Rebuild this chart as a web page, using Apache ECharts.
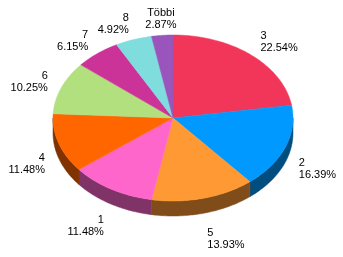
<!DOCTYPE html>
<html>
<head>
<meta charset="utf-8">
<script src="https://cdn.jsdelivr.net/npm/echarts@6/dist/echarts.min.js"></script>
<style>
  html, body { margin: 0; padding: 0; background: #fff; }
  #chart { width: 343px; height: 257px; }
</style>
</head>
<body>
<div id="chart"></div>
<script>
// slices, clockwise from 12 o'clock
const names = ['3', '2', '5', '1', '4', '6', '7', '8', 'Többi']
const shares = [22.54, 16.39, 13.93, 11.48, 11.48, 10.25, 6.15, 4.92, 2.87]
const colors = ['#f2365a', '#0099ff', '#ff9933', '#ff66cc', '#ff6600', '#b3e07f', '#cc3399', '#7fdddd', '#9955bb']

const cx = 173
const cy = 118
const rx = 120
const ry = 83
const depth = 15

const total = shares.reduce((a, b) => a + b, 0)
const starts = []
shares.reduce((acc, v, i) => { starts[i] = acc; return acc + v }, 0)

function darken (hex) {
  const c = echarts.color.parse(hex)
  return 'rgb(' + Math.round(c[0] * 0.5) + ',' + Math.round(c[1] * 0.5) + ',' + Math.round(c[2] * 0.5) + ')'
}

function pt (deg, dy) {
  const r = deg * Math.PI / 180
  return [cx + rx * Math.sin(r), cy - ry * Math.cos(r) + (dy || 0)]
}

function arc (a0, a1, dy) {
  const pts = []
  const n = Math.max(2, Math.ceil(Math.abs(a1 - a0)))
  for (let k = 0; k <= n; k++) {
    pts.push(pt(a0 + (a1 - a0) * k / n, dy))
  }
  return pts
}

function renderItem (params, api) {
  const i = params.dataIndex
  const v = api.value(0)
  const a0 = starts[i] / total * 360
  const a1 = a0 + v / total * 360
  const children = []

  // side wall, front half only
  const s0 = Math.max(a0, 90)
  const s1 = Math.min(a1, 270)
  if (s1 > s0) {
    const top = arc(s0, s1, 0)
    const bottom = arc(s1, s0, depth)
    children.push({
      type: 'polygon',
      shape: { points: top.concat(bottom) },
      style: { fill: darken(colors[i]), stroke: darken(colors[i]), lineWidth: 0.5 }
    })
  }

  // top face
  children.push({
    type: 'polygon',
    shape: { points: [[cx, cy]].concat(arc(a0, a1, 0)) },
    style: { fill: colors[i], stroke: colors[i], lineWidth: 0.5 }
  })

  // label
  const mid = (a0 + a1) / 2
  const r = mid * Math.PI / 180
  const sn = Math.sin(r)
  const cs = Math.cos(r)
  let lx = cx + rx * 1.12 * sn
  let ly = cy - ry * 1.2 * cs
  if (cs < 0) ly += depth + 10 * cs * cs
  let align = sn > 0 ? 'left' : 'right'
  if (Math.abs(sn) < 0.2 && cs > 0) align = 'center'
  children.push({
    type: 'text',
    x: lx,
    y: ly,
    style: {
      text: names[i] + '\n' + v.toFixed(2) + '%',
      fill: '#000',
      font: '11px "Liberation Sans", Arial, sans-serif',
      lineHeight: 12,
      align: align,
      verticalAlign: 'middle'
    }
  })

  return { type: 'group', children: children }
}

const chart = echarts.init(document.getElementById('chart'))
chart.setOption({
  animation: false,
  series: [{
    type: 'custom',
    coordinateSystem: 'none',
    renderItem: renderItem,
    data: shares.map(v => [v])
  }]
})
</script>
</body>
</html>
